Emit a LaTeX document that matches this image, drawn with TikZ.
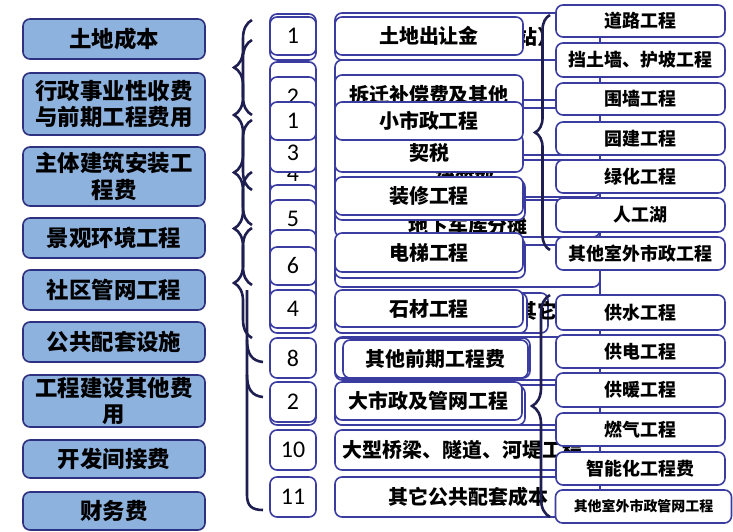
\documentclass[tikz,border=0pt]{standalone}
\usepackage{fontspec}
\newfontfamily\cjk{Noto Sans CJK SC}
\newfontfamily\numf{Carlito}
\usetikzlibrary{decorations.pathreplacing}
\definecolor{lblue}{RGB}{142,178,222}
\definecolor{lbord}{RGB}{46,48,128}
\definecolor{wbord}{RGB}{58,60,160}
\definecolor{brc}{RGB}{30,31,80}
\tikzset{
  base/.style={rounded corners=7bp, line width=1.6bp, inner sep=0pt, outer sep=0pt, align=center},
  lbox/.style={base, draw=lbord, fill=lblue, font=\cjk\bfseries\fontsize{22.5}{27}\selectfont},
  nbox/.style={base, draw=wbord, fill=white, font=\numf\fontsize{24}{26}\selectfont},
  mbox/.style={base, draw=wbord, fill=white, font=\cjk\bfseries\fontsize{20}{22}\selectfont},
  gbox/.style={base, draw=wbord, fill=white},
  rbox/.style={base, draw=wbord, fill=white, font=\cjk\bfseries\fontsize{18}{20}\selectfont},
  gtext/.style={font=\cjk\bfseries\fontsize{20}{22}\selectfont, inner sep=0pt},
  mybrace/.style={draw=brc, line width=2.6bp, decorate, decoration={brace, amplitude=#1}},
  hook/.style={draw=brc, line width=2.6bp},
  conn/.style={draw=wbord, line width=1.2bp},
}
\newcommand\rbx[7]{\node[#1, minimum width={(#5-#3)*1bp}, minimum height={(#6-#4)*1bp}] (#2) at ({(#3+#5)/2},{(#4+#6)/2}) {#7};}
\begin{document}
\begin{tikzpicture}[x=1bp,y=-1bp]
\useasboundingbox (0,0) rectangle (733,532);
% ---------- ghost boxes (middle column) ----------
\rbx{gbox}{g1}{335}{13}{600}{60}{}
\rbx{gbox}{g2}{335}{60}{600}{100}{}
\rbx{gbox}{g3}{335}{108}{600}{155}{}
\rbx{gbox}{g4}{335}{160}{600}{197}{}
\rbx{gbox}{g5}{335}{200}{600}{237}{}
\rbx{gbox}{g6}{335}{245}{600}{287}{}
\rbx{gbox}{g7}{335}{293}{548}{333}{}
\rbx{gbox}{g8}{335}{337}{600}{380}{}
\rbx{gbox}{g9}{335}{385}{600}{425}{}
\node[gtext] (t1) at (537,37) {站）};
\node[gtext] (t2) at (465,180) {建筑部};
\node[gtext] (t3) at (468,226) {地下车库分摊};
\node[gtext] (t4) at (537,311) {其它};
% ---------- middle column ----------
\rbx{mbox}{m1}{335}{17}{523}{55}{土地出让金}
\rbx{mbox}{m2}{335}{75}{523}{115}{拆迁补偿费及其他}
\rbx{mbox}{m3}{335}{134}{523}{172}{契税}
\rbx{mbox}{m4}{335}{102}{523}{140}{小市政工程}
\rbx{gbox}{m5s}{335}{180}{525}{220}{}
\rbx{mbox}{m5}{335}{177}{523}{215}{装修工程}
\rbx{gbox}{m6s}{335}{238}{525}{278}{}
\rbx{mbox}{m6}{335}{233}{523}{272}{电梯工程}
\rbx{gbox}{m7s}{335}{293}{527}{333}{}
\rbx{mbox}{m7}{335}{290}{523}{327}{石材工程}
\rbx{gbox}{m8s}{335}{338}{530}{378}{}
\rbx{mbox}{m8}{343}{340}{528}{378}{其他前期工程费}
\rbx{gbox}{m9s}{335}{386}{525}{425}{}
\rbx{mbox}{m9}{335}{382}{522}{420}{大市政及管网工程}
\rbx{mbox}{m10}{335}{430}{600}{470}{\hspace*{-10bp}大型桥梁、隧道、河堤工程}
\rbx{mbox}{m11}{335}{477}{600}{517}{\hspace*{2bp}其它公共配套成本}
% ---------- number column ----------
\rbx{gbox}{ng0}{270}{62}{316}{330}{}
\rbx{gbox}{ng1}{270}{14}{316}{60}{}
\rbx{nbox}{n1}{270}{17}{316}{55}{1}
\rbx{nbox}{n2}{270}{77}{316}{117}{2}
\rbx{nbox}{n4a}{270}{157}{316}{190}{4}
\rbx{gbox}{n7}{270}{185}{316}{225}{}
\rbx{nbox}{n3}{270}{134}{316}{172}{3}
\rbx{nbox}{n1b}{270}{102}{316}{140}{1}
\rbx{nbox}{n5}{270}{200}{316}{238}{5}
\rbx{gbox}{n3b}{270}{230}{316}{272}{}
\rbx{nbox}{n6}{270}{247}{316}{285}{6}
\rbx{gbox}{n4s}{270}{293}{316}{333}{}
\rbx{nbox}{n4}{270}{290}{316}{328}{4}
\rbx{nbox}{n8}{270}{338}{316}{378}{8}
\rbx{gbox}{n2s}{270}{385}{316}{425}{}
\rbx{nbox}{n2b}{270}{382}{316}{422}{2}
\rbx{nbox}{n10}{270}{430}{316}{470}{10}
\rbx{nbox}{n11}{270}{477}{316}{517}{11}
% ---------- left column ----------
\rbx{lbox}{l1}{23}{19}{205}{59}{土地成本}
\rbx{lbox}{l2}{23}{73}{205}{135}{行政事业性收费\\与前期工程费用}
\rbx{lbox}{l3}{23}{147}{205}{206}{主体建筑安装工\\程费}
\rbx{lbox}{l4}{23}{218}{205}{258}{景观环境工程}
\rbx{lbox}{l5}{23}{270}{205}{310}{社区管网工程}
\rbx{lbox}{l6}{23}{322}{205}{362}{公共配套设施}
\rbx{lbox}{l7}{23}{375}{205}{427}{工程建设其他费\\用}
\rbx{lbox}{l8}{23}{440}{205}{478}{开发间接费}
\rbx{lbox}{l9}{23}{492}{205}{530}{财务费}
% ---------- left braces ----------
\draw[mybrace=18] (252,115) -- (252,20);
\draw[mybrace=18] (252,190) -- (252,40);
\draw[mybrace=18] (252,225) -- (252,120);
\draw[mybrace=18] (252,285) -- (252,172);
\draw[mybrace=18] (252,338) -- (252,228);
\draw[hook] (247,290) -- (247,495) .. controls (247,506) and (252,510) .. (263,510);
\draw[hook] (247,340) .. controls (247,354) and (252,361) .. (263,362);
\draw[hook] (247,375) .. controls (247,389) and (252,396) .. (263,397);
% ---------- right column ----------
\coordinate (vx) at (600,0);
\rbx{rbox}{r1}{556}{5}{725}{37}{道路工程}
\rbx{rbox}{r2}{556}{43}{725}{77}{挡土墙、护坡工程}
\rbx{rbox}{r3}{556}{83}{725}{115}{围墙工程}
\rbx{rbox}{r4}{556}{122}{725}{155}{园建工程}
\rbx{rbox}{r5}{556}{160}{725}{193}{绿化工程}
\rbx{rbox}{r6}{556}{198}{725}{232}{人工湖}
\rbx{rbox}{r7}{556}{237}{725}{270}{其他室外市政工程}
\rbx{rbox}{r8}{556}{295}{725}{330}{供水工程}
\rbx{rbox}{r9}{556}{335}{725}{368}{供电工程}
\rbx{rbox}{r10}{556}{373}{725}{407}{供暖工程}
\rbx{rbox}{r11}{556}{413}{725}{446}{燃气工程}
\rbx{rbox}{r12}{556}{452}{725}{485}{智能化工程费}
\node[rbox, font=\cjk\bfseries\fontsize{14}{16}\selectfont, minimum width=176bp, minimum height=33bp] (r13) at (643.5,506.5) {其他室外市政管网工程};
\foreach \a/\b in {r1/r2,r2/r3,r3/r4,r4/r5,r5/r6,r6/r7,r7/r8,r8/r9,r9/r10,r10/r11,r11/r12,r12/r13}
  \draw[conn] (\a.south -| vx) -- (\b.north -| vx);
% ---------- right braces ----------
\draw[mybrace=15] (550,250) -- (550,15);
\draw[mybrace=18] (550,517) -- (550,295);
\end{tikzpicture}
\end{document}
